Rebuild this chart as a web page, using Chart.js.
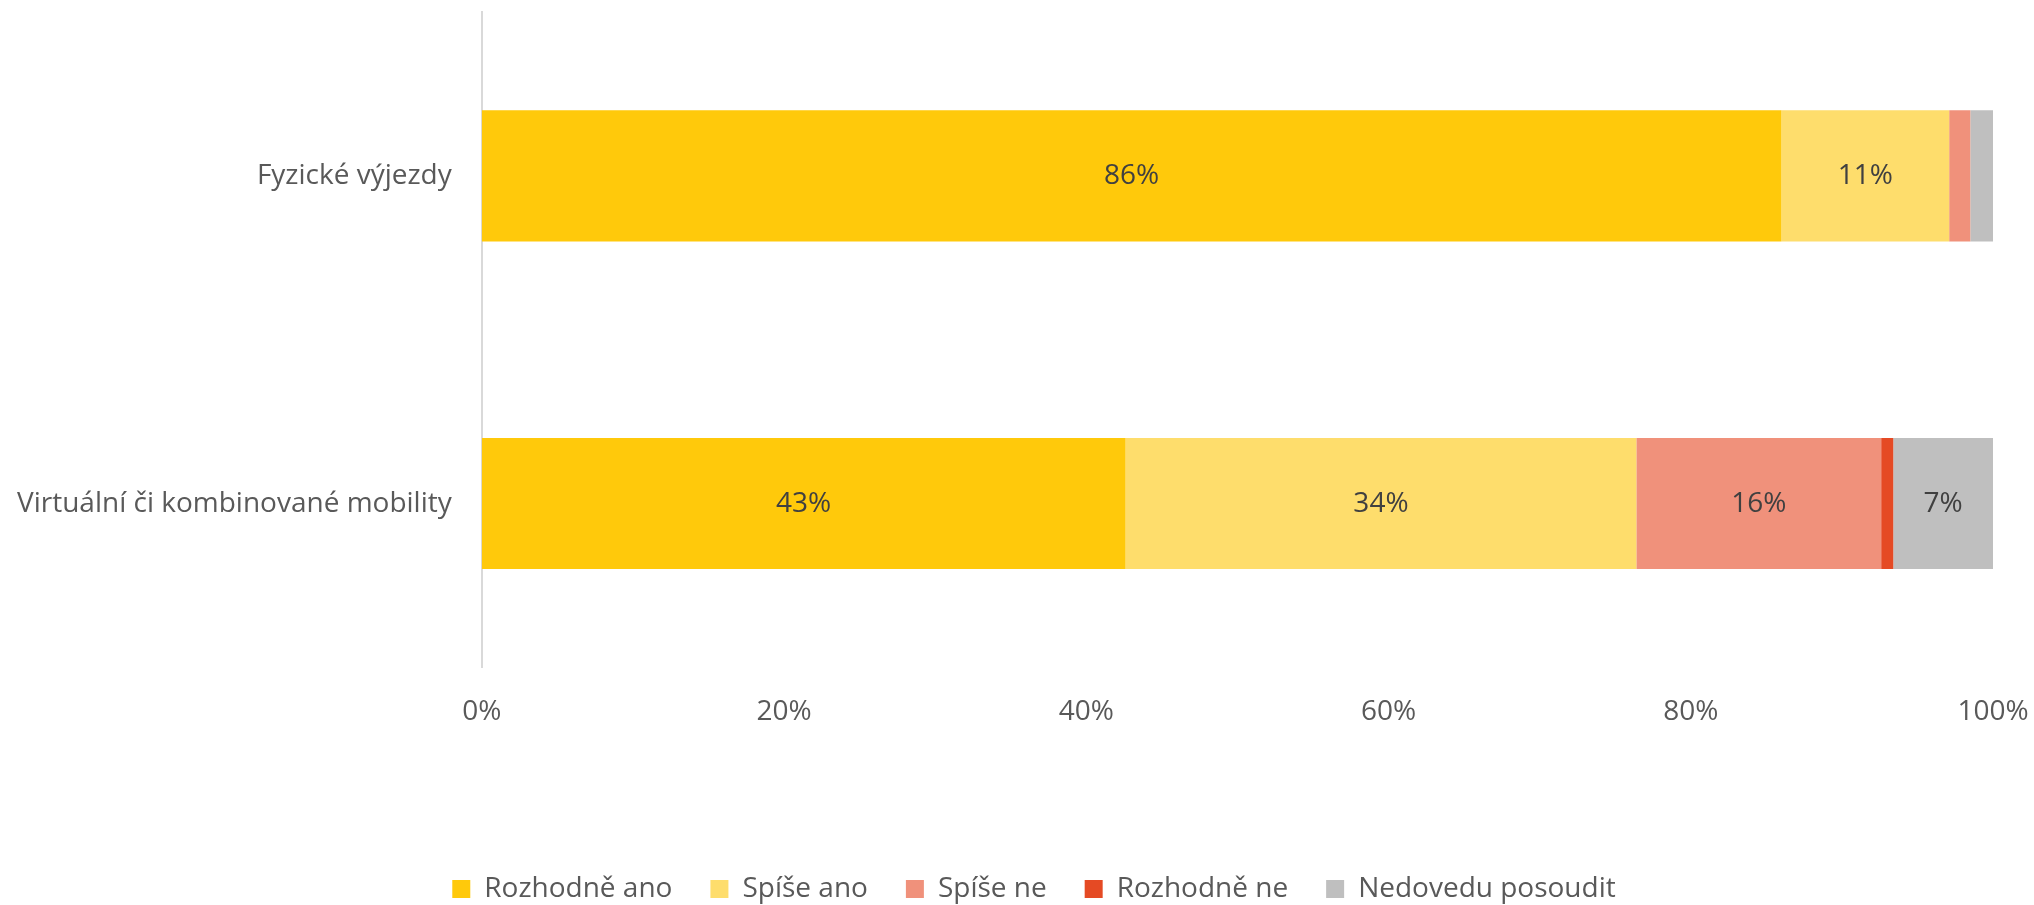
<!DOCTYPE html>
<html>
<head>
<meta charset="utf-8">
<script src="https://cdn.jsdelivr.net/npm/chart.js@4/dist/chart.umd.min.js"></script>
<style>
  html, body { margin: 0; padding: 0; background: #fff; }
  canvas { display: block; }
</style>
</head>
<body>
<canvas id="mobilityChart" width="2034" height="905"></canvas>
<script>
const categories = ['Fyzické výjezdy', 'Virtuální či kombinované mobility'];
const seriesNames = ['Rozhodně ano', 'Spíše ano', 'Spíše ne', 'Rozhodně ne', 'Nedovedu posoudit'];
const rozhodneAno = [86.0, 42.6];
const spiseAno = [11.1, 33.8];
const spiseNe = [1.4, 16.2];
const rozhodneNe = [0, 0.8];
const nedovedu = [1.5, 6.6];
const tickLabels = ['0%', '20%', '40%', '60%', '80%', '100%'];
const colors = ['#FFC90B', '#FEDD6C', '#F0917B', '#E54A24', '#BFBFBF'];

const fontFamily = '"Open Sans", "Noto Sans", sans-serif';

// values inside the bars, only for the wider segments
const barLabels = {
    id: 'barLabels',
    afterDatasetsDraw(chart) {
        const ctx = chart.ctx;
        ctx.save();
        ctx.font = '28px ' + fontFamily;
        ctx.fillStyle = '#404040';
        ctx.textAlign = 'center';
        ctx.textBaseline = 'middle';
        chart.data.datasets.forEach((ds, i) => {
            chart.getDatasetMeta(i).data.forEach((bar, j) => {
                const v = ds.data[j];
                if (v < 5) return;
                const p = bar.getCenterPoint();
                ctx.fillText(Math.round(v) + '%', p.x, p.y);
            });
        });
        ctx.restore();
    }
};

// legend sits a bit right of the canvas centre in the original
const legendShift = {
    id: 'legendShift',
    afterLayout(chart) {
        chart.legend.left += 29;
        chart.legend.right += 29;
    }
};

const allValues = [rozhodneAno, spiseAno, spiseNe, rozhodneNe, nedovedu];

new Chart(document.getElementById('mobilityChart').getContext('2d'), {
    type: 'bar',
    data: {
        labels: categories,
        datasets: seriesNames.map((name, i) => ({
            label: name,
            data: allValues[i],
            backgroundColor: colors[i],
            borderWidth: 0,
            categoryPercentage: 0.4,
            barPercentage: 1
        }))
    },
    options: {
        indexAxis: 'y',
        responsive: false,
        devicePixelRatio: 1,
        animation: false,
        layout: { padding: { top: 12, left: 17, right: 41, bottom: -8 } },
        scales: {
            x: {
                stacked: true,
                min: 0,
                max: 100,
                grid: { display: false, drawTicks: true, tickLength: 28 },
                border: { display: false },
                ticks: {
                    stepSize: 20,
                    padding: 0,
                    color: '#595959',
                    font: { size: 28, family: fontFamily },
                    callback: (v, i) => tickLabels[i]
                },
                afterFit: (scale) => { scale.height += 108; }
            },
            y: {
                stacked: true,
                grid: { display: false, drawTicks: true, tickLength: 30 },
                border: { display: true, color: '#D9D9D9', width: 2 },
                ticks: {
                    padding: 0,
                    color: '#595959',
                    font: { size: 28, family: fontFamily, lineHeight: 0.85 }
                }
            }
        },
        plugins: {
            legend: {
                position: 'bottom',
                labels: {
                    boxWidth: 18,
                    boxHeight: 18,
                    padding: 38,
                    color: '#595959',
                    font: { size: 28, family: fontFamily }
                }
            },
            tooltip: { enabled: false }
        }
    },
    plugins: [barLabels, legendShift]
});
</script>
</body>
</html>
